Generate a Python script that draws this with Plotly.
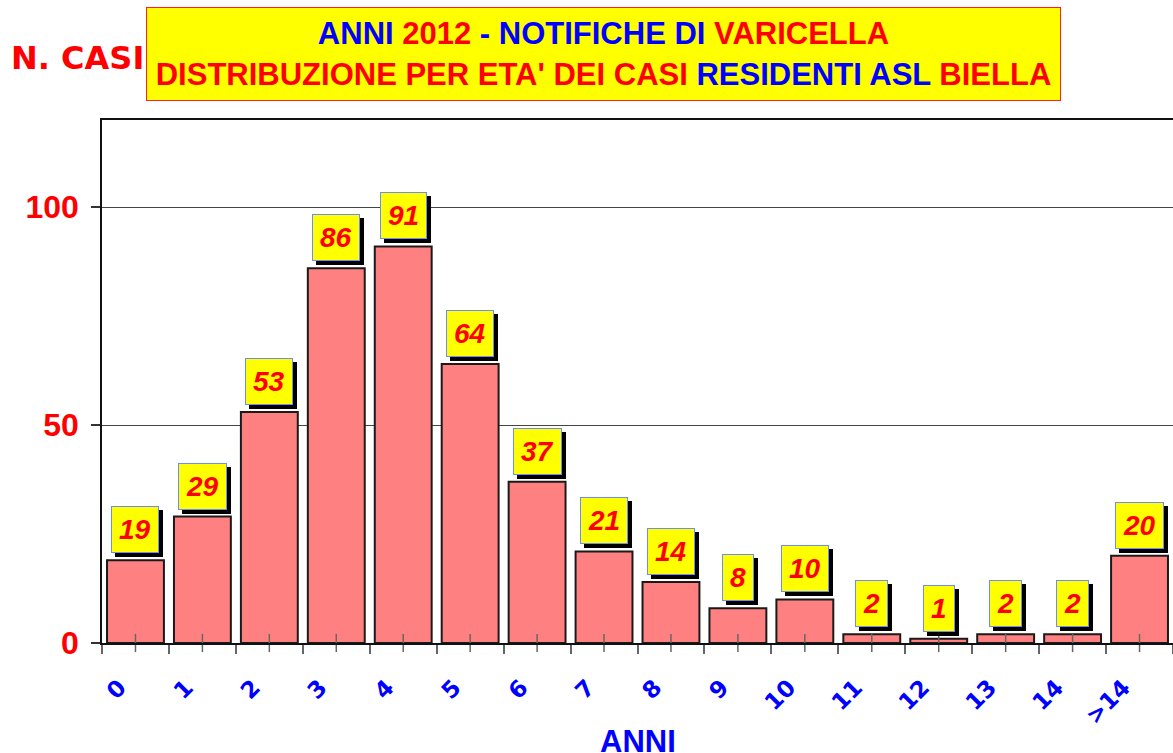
import plotly.graph_objects as go

categories = ["0", "1", "2", "3", "4", "5", "6", "7", "8", "9", "10", "11", "12", "13", "14", ">14"]
cases = [19, 29, 53, 86, 91, 64, 37, 21, 14, 8, 10, 2, 1, 2, 2, 20]
y_ticks = [0, 50, 100]

title_line1 = ("<span style='color:#0000FF'>ANNI </span><span style='color:#FF0000'>2012 </span>"
               "<span style='color:#0000FF'>- NOTIFICHE DI </span><span style='color:#FF0000'>VARICELLA</span>")
title_line2 = ("<span style='color:#FF0000'>DISTRIBUZIONE PER ETA' DEI CASI </span>"
               "<span style='color:#0000FF'>RESIDENTI ASL </span><span style='color:#FF0000'>BIELLA</span>")

W, H = 1173, 753
ML, MR, MT, MB = 102, 0, 120, 110
PW = W - ML - MR
PH = H - MT - MB


def px_x(px):
    return (px - ML) / PW


def px_y(py):
    return (H - MB - py) / PH


fig = go.Figure()
fig.add_trace(go.Bar(
    x=categories, y=cases,
    marker=dict(color="#FF8080", line=dict(color="#1a1a1a", width=2)),
    hoverinfo="skip",
))
# center tick marks crossing the axis
fig.add_trace(go.Scatter(
    x=categories, y=[0] * len(categories), mode="markers",
    marker=dict(symbol="line-ns-open", size=13, color="#666666",
                line=dict(color="#666666", width=1.5)),
    hoverinfo="skip", cliponaxis=False,
))

label_font = dict(family="Arial, Liberation Sans", size=28, color="#FF0000")
annotations = []
for c, v in zip(categories, cases):
    # shadow
    annotations.append(dict(
        x=c, y=v, xref="x", yref="y", text="<b><i>%d</i></b>" % v,
        showarrow=False, yanchor="bottom", xanchor="center",
        xshift=4, yshift=3,
        font=dict(family="Arial, Liberation Sans", size=28, color="#000000"),
        bgcolor="#000000", bordercolor="#000000", borderwidth=1, borderpad=7,
    ))
    annotations.append(dict(
        x=c, y=v, xref="x", yref="y", text="<b><i>%d</i></b>" % v,
        showarrow=False, yanchor="bottom", xanchor="center",
        yshift=7,
        font=label_font,
        bgcolor="#FFFF00", bordercolor="#6A8CFF", borderwidth=1, borderpad=7,
    ))

# title box
annotations.append(dict(
    xref="paper", yref="paper", x=px_x(603.5), y=px_y(7),
    xanchor="center", yanchor="top", showarrow=False,
    text="<b>" + title_line1 + "<br>" + title_line2 + "</b>",
    font=dict(family="Arial, Liberation Sans", size=31),
    bgcolor="#FFFF00", bordercolor="#FF2020", borderwidth=1, borderpad=4,
    width=905, height=84, align="center",
))
# y axis label
annotations.append(dict(
    xref="paper", yref="paper", x=px_x(9), y=px_y(58),
    xanchor="left", yanchor="middle", showarrow=False,
    text="<b>N. CASI</b>",
    font=dict(family="Comic Sans MS, DejaVu Sans", size=32, color="#FF0000"),
))
# x axis label
annotations.append(dict(
    xref="paper", yref="paper", x=px_x(638), y=px_y(741),
    xanchor="center", yanchor="middle", showarrow=False,
    text="<b>ANNI</b>",
    font=dict(family="Arial, Liberation Sans", size=31, color="#0000FF"),
))

fig.update_layout(
    width=W, height=H,
    margin=dict(l=ML, r=MR, t=MT, b=MB, pad=0, autoexpand=False),
    plot_bgcolor="#FFFFFF", paper_bgcolor="#FFFFFF",
    showlegend=False, bargap=0.15,
    annotations=annotations,
    xaxis=dict(
        type="category", range=[-0.5, len(categories) - 0.5], autorange=False,
        automargin=False,
        showline=True, linecolor="#111111", linewidth=2, mirror=True,
        ticks="outside", tickson="boundaries", ticklen=9, tickcolor="#666666", tickwidth=1.5,
        tickangle=-45,
        tickfont=dict(family="Comic Sans MS, DejaVu Sans", size=23, color="#0000FF", weight="bold"),
        ticklabelstandoff=20, ticklabelshift=-16,
        showgrid=False, zeroline=False, fixedrange=True,
    ),
    yaxis=dict(
        range=[0, 120], autorange=False, automargin=False,
        tickvals=y_ticks, ticktext=[str(t) for t in y_ticks],
        showline=True, linecolor="#111111", linewidth=1.5,
        ticks="outside", ticklen=9, tickcolor="#333333", tickwidth=1.5,
        tickfont=dict(family="Arial, Liberation Sans", size=32, color="#FF0000", weight="bold"),
        ticklabelstandoff=6,
        showgrid=True, gridcolor="#444444", gridwidth=1,
        zeroline=False, fixedrange=True,
    ),
)

fig.write_html(
    "out.html",
    config={"displayModeBar": False},
    post_script="document.body.style.margin='0';document.body.style.overflow='hidden';",
)
